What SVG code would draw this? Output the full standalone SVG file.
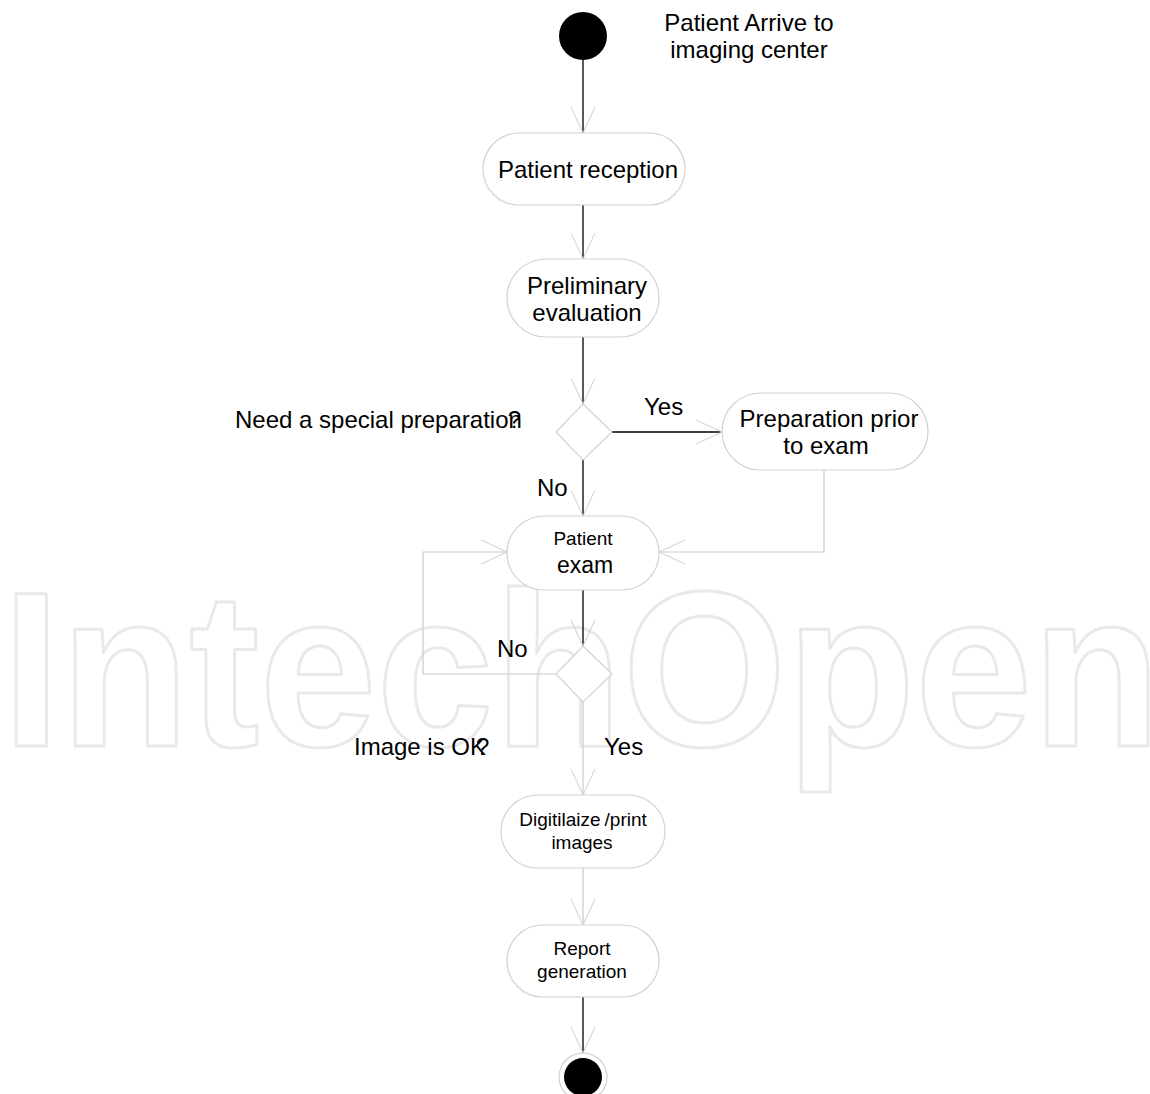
<svg xmlns="http://www.w3.org/2000/svg" width="1150" height="1094" viewBox="0 0 1150 1094">
<defs>
<style>
.node{fill:#fff;stroke:#d2d2d2;stroke-width:1.2}
.dec{fill:#fff;stroke:#d2d2d2;stroke-width:1.2}
.blk{fill:none;stroke:#000;stroke-width:1.3}
.gry{fill:none;stroke:#cacaca;stroke-width:1.2}
text{font-family:"Liberation Sans",Arial,sans-serif;fill:#000}
.t24{font-size:24px}
.t19{font-size:19px}
.c{text-anchor:middle}
.wm{font-family:"Liberation Sans",Arial,sans-serif;font-weight:bold;font-size:220px;fill:none;stroke:#e9e9e9;stroke-width:3;stroke-linejoin:round}
</style>
<marker id="arr" markerUnits="userSpaceOnUse" markerWidth="40" markerHeight="40" viewBox="-30 -20 40 40" refX="0" refY="0" orient="auto" overflow="visible">
<path d="M-26,-12 L0,0 L-26,12" fill="none" stroke="#d0d0d0" stroke-width="1"/>
</marker>
</defs>
<rect width="1150" height="1094" fill="#fff"/>
<text class="wm" x="2" y="746" textLength="1159" lengthAdjust="spacingAndGlyphs">IntechOpen</text>

<g id="connectors">
<path class="blk" d="M583,60 V133" marker-end="url(#arr)"/>
<path class="blk" d="M583,205 V259" marker-end="url(#arr)"/>
<path class="blk" d="M583,337 V404" marker-end="url(#arr)"/>
<path class="blk" d="M612,432 H722" marker-end="url(#arr)"/>
<path class="blk" d="M583,460 V516" marker-end="url(#arr)"/>
<path class="gry" d="M824,470 V552 H659" marker-end="url(#arr)"/>
<path class="blk" d="M583,590 V646" marker-end="url(#arr)"/>
<path class="gry" d="M556,674 H423 V552 H507" marker-end="url(#arr)"/>
<path class="gry" d="M583,702 V795" marker-end="url(#arr)"/>
<path class="gry" d="M583,868 V925" marker-end="url(#arr)"/>
<path class="blk" d="M583,997 V1053" marker-end="url(#arr)"/>
</g>

<g id="start">
<circle cx="583" cy="36" r="24" fill="#000"/>
<text class="t24 c" x="749" y="31">Patient Arrive to</text>
<text class="t24 c" x="749" y="58">imaging center</text>
</g>

<g id="reception">
<rect class="node" x="483" y="133" width="202" height="72" rx="36"/>
<text class="t24 c" x="588" y="178">Patient reception</text>
</g>

<g id="preliminary">
<rect class="node" x="507" y="259" width="152" height="78" rx="39"/>
<text class="t24 c" x="587" y="294">Preliminary</text>
<text class="t24 c" x="587" y="321">evaluation</text>
</g>

<g id="decision1">
<polygon class="dec" points="583,404 612,432 583,460 556,432"/>
<text class="t24" x="235" y="428">Need a special preparation<tspan dx="-14">?</tspan></text>
<text class="t24" x="644" y="415">Yes</text>
<text class="t24" x="537" y="496">No</text>
</g>

<g id="preparation">
<rect class="node" x="722" y="393" width="206" height="77" rx="38.5"/>
<text class="t24 c" x="829" y="427">Preparation prior</text>
<text class="t24 c" x="826" y="454">to exam</text>
</g>

<g id="exam">
<rect class="node" x="507" y="516" width="152" height="74" rx="37"/>
<text class="t19 c" x="583" y="545">Patient</text>
<text class="c" style="font-size:23px" x="585" y="573">exam</text>
</g>

<g id="decision2">
<polygon class="dec" points="583,646 612,674 583,702 556,674"/>
<text class="t24" x="497" y="657">No</text>
<text class="t24" x="354" y="755">Image is OK<tspan dx="-10">?</tspan></text>
<text class="t24" x="604" y="755">Yes</text>
</g>

<g id="digitize">
<rect class="node" x="501" y="795" width="164" height="73" rx="36.5"/>
<text class="t19 c" x="583" y="826">Digitilaize<tspan dx="4">/print</tspan></text>
<text class="t19 c" x="582" y="849">images</text>
</g>

<g id="report">
<rect class="node" x="507" y="925" width="152" height="72" rx="36"/>
<text class="t19 c" x="582" y="955">Report</text>
<text class="t19 c" x="582" y="978">generation</text>
</g>

<g id="end">
<circle cx="583" cy="1077" r="24" fill="#fff" stroke="#d2d2d2" stroke-width="1.2"/>
<circle cx="583" cy="1077" r="19" fill="#000"/>
</g>
</svg>
